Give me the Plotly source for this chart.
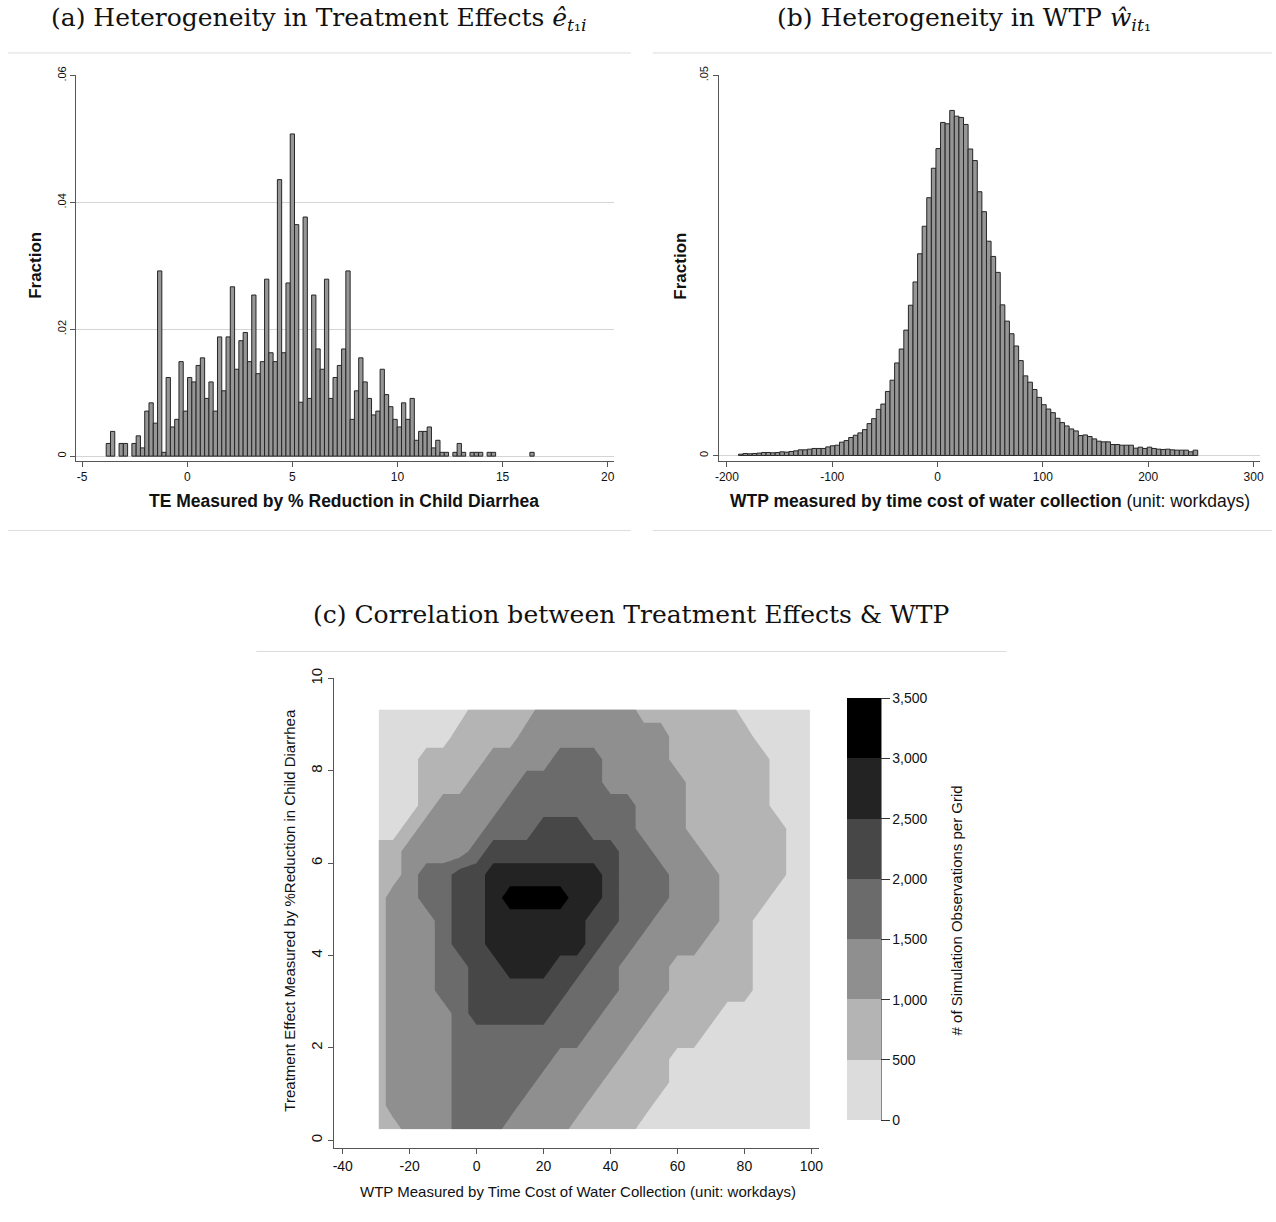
import plotly.graph_objects as go

W, H = 1276, 1222

# ---------------- data: panel (a) ----------------
te_bin_start = -3.857
te_bin_width = 0.2036
te_fraction = [
    0.0020, 0.0039, 0, 0.0020, 0.0020, 0, 0.0020, 0.0032, 0.0013, 0.0071,
    0.0084, 0.0052, 0.0292, 0.0006, 0.0124, 0.0046, 0.0058, 0.0149, 0.0071, 0.0124,
    0.0117, 0.0143, 0.0155, 0.0091, 0.0117, 0.0071, 0.0188, 0.0103, 0.0188, 0.0267,
    0.0137, 0.0182, 0.0195, 0.0149, 0.0254, 0.0130, 0.0149, 0.0279, 0.0163, 0.0149,
    0.0436, 0.0163, 0.0273, 0.0508, 0.0365, 0.0085, 0.0377, 0.0091, 0.0254, 0.0169,
    0.0137, 0.0279, 0.0091, 0.0124, 0.0143, 0.0169, 0.0292, 0.0058, 0.0103, 0.0155,
    0.0117, 0.0091, 0.0065, 0.0071, 0.0137, 0.0097, 0.0078, 0.0058, 0.0046, 0.0084,
    0.0058, 0.0091, 0.0025, 0.0039, 0.0039, 0.0046, 0.0013, 0.0025, 0.0006, 0.0006,
    0, 0.0006, 0.0020, 0.0006, 0, 0.0006, 0.0006, 0.0006, 0, 0.0006,
    0.0006, 0, 0, 0, 0, 0, 0, 0, 0, 0.0006,
]
te_xticks = [-5, 0, 5, 10, 15, 20]
te_xticklabels = ["-5", "0", "5", "10", "15", "20"]
te_yticks = [0, 0.02, 0.04, 0.06]
te_yticklabels = ["0", ".02", ".04", ".06"]

# ---------------- data: panel (b) ----------------
wtp_bin_start = -189.0
wtp_bin_width = 4.36
wtp_fraction = [
    0.00017, 0.00026, 0.00022, 0.00026, 0.00031, 0.00039, 0.00039, 0.00035, 0.00039, 0.00048,
    0.00044, 0.00052, 0.00061, 0.00074, 0.00074, 0.00083, 0.00092, 0.00092, 0.00092, 0.00113,
    0.00127, 0.00135, 0.00175, 0.00196, 0.00236, 0.00266, 0.00297, 0.00340, 0.00419, 0.00484,
    0.00606, 0.00676, 0.00842, 0.00990, 0.01217, 0.01400, 0.01649, 0.01976, 0.02282, 0.02653,
    0.03015, 0.03390, 0.03778, 0.04036, 0.04380, 0.04363, 0.04538, 0.04463, 0.04446, 0.04354,
    0.04031, 0.03879, 0.03469, 0.03207, 0.02818, 0.02618, 0.02408, 0.01981, 0.01767, 0.01601,
    0.01440, 0.01248, 0.01047, 0.00964, 0.00868, 0.00764, 0.00668, 0.00611, 0.00563, 0.00489,
    0.00432, 0.00388, 0.00349, 0.00323, 0.00262, 0.00270, 0.00249, 0.00218, 0.00188, 0.00179,
    0.00179, 0.00144, 0.00144, 0.00135, 0.00135, 0.00135, 0.00096, 0.00109, 0.00092, 0.00109,
    0.00092, 0.00083, 0.00079, 0.00083, 0.00074, 0.00070, 0.00070, 0.00070, 0.00048, 0.00070,
]
wtp_xticks = [-200, -100, 0, 100, 200, 300]
wtp_xticklabels = ["-200", "-100", "0", "100", "200", "300"]
wtp_yticks = [0, 0.05]
wtp_yticklabels = ["0", ".05"]

# ---------------- data: panel (c) ----------------
grid_wtp = [-29.3, -25, -20, -15, -10, -5, 0, 5, 10, 15, 20, 25, 30, 35, 40,
            45, 50, 55, 60, 65, 70, 75, 80, 85, 90, 95, 99.6]
grid_te = [0.24, 0.75, 1.25, 1.75, 2.25, 2.75, 3.25, 3.75, 4.25, 4.75,
           5.25, 5.75, 6.25, 6.75, 7.25, 7.75, 8.25, 8.75, 9.33]
obs_per_grid = [
    [750, 750, 1250, 1250, 1250, 1750, 1750, 1750, 1250, 1250, 1250, 1250, 750, 750, 750, 750, 250, 250, 250, 250, 250, 250, 250, 250, 250, 250, 250],
    [750, 1250, 1250, 1250, 1250, 1750, 1750, 1750, 1750, 1250, 1250, 1250, 1250, 750, 750, 750, 750, 250, 250, 250, 250, 250, 250, 250, 250, 250, 250],
    [750, 1250, 1250, 1250, 1250, 1750, 1750, 1750, 1750, 1750, 1250, 1250, 1250, 1250, 750, 750, 750, 750, 250, 250, 250, 250, 250, 250, 250, 250, 250],
    [750, 1250, 1250, 1250, 1250, 1750, 1750, 1750, 1750, 1750, 1750, 1250, 1250, 1250, 1250, 750, 750, 750, 250, 250, 250, 250, 250, 250, 250, 250, 250],
    [750, 1250, 1250, 1250, 1250, 1750, 1750, 1750, 1750, 1750, 1750, 1750, 1750, 1250, 1250, 1250, 750, 750, 750, 750, 250, 250, 250, 250, 250, 250, 250],
    [750, 1250, 1250, 1250, 1250, 1750, 2250, 2250, 2250, 2250, 2250, 1750, 1750, 1750, 1250, 1250, 1250, 750, 750, 750, 750, 250, 250, 250, 250, 250, 250],
    [750, 1250, 1250, 1250, 1750, 1750, 2250, 2250, 2250, 2250, 2250, 2250, 1750, 1750, 1750, 1250, 1250, 1250, 750, 750, 750, 750, 750, 250, 250, 250, 250],
    [750, 1250, 1250, 1250, 1750, 1750, 2250, 2250, 2750, 2750, 2750, 2250, 2250, 1750, 1750, 1250, 1250, 1250, 750, 750, 750, 750, 750, 250, 250, 250, 250],
    [750, 1250, 1250, 1250, 1750, 2250, 2250, 2750, 2750, 2750, 2750, 2750, 2750, 2250, 1750, 1750, 1250, 1250, 1250, 1250, 750, 750, 750, 250, 250, 250, 250],
    [750, 1250, 1250, 1250, 1750, 2250, 2250, 2750, 2750, 2750, 2750, 2750, 2750, 2250, 2250, 1750, 1750, 1250, 1250, 1250, 1250, 750, 750, 250, 250, 250, 250],
    [750, 1250, 1250, 1750, 1750, 2250, 2250, 2750, 3250, 3250, 3250, 3250, 2750, 2750, 2250, 1750, 1750, 1750, 1250, 1250, 1250, 750, 750, 750, 250, 250, 250],
    [750, 750, 1250, 1750, 1750, 2250, 2250, 2750, 2750, 2750, 2750, 2750, 2750, 2750, 2250, 1750, 1750, 1750, 1250, 1250, 1250, 750, 750, 750, 750, 250, 250],
    [750, 750, 1250, 1250, 1250, 1250, 1750, 2250, 2250, 2250, 2250, 2250, 2250, 2250, 2250, 1750, 1750, 1250, 1250, 1250, 750, 750, 750, 750, 750, 250, 250],
    [250, 250, 750, 1250, 1250, 1250, 1250, 1750, 1750, 1750, 2250, 2250, 2250, 1750, 1750, 1750, 1250, 1250, 1250, 750, 750, 750, 750, 750, 750, 250, 250],
    [250, 250, 250, 750, 1250, 1250, 1250, 1250, 1750, 1750, 1750, 1750, 1750, 1750, 1750, 1750, 1250, 1250, 1250, 750, 750, 750, 750, 750, 250, 250, 250],
    [250, 250, 250, 750, 750, 750, 1250, 1250, 1250, 1750, 1750, 1750, 1750, 1750, 1250, 1250, 1250, 1250, 1250, 750, 750, 750, 750, 750, 250, 250, 250],
    [250, 250, 250, 750, 750, 750, 750, 1250, 1250, 1250, 1250, 1750, 1750, 1750, 1250, 1250, 1250, 1250, 750, 750, 750, 750, 750, 750, 250, 250, 250],
    [250, 250, 250, 250, 250, 750, 750, 750, 750, 1250, 1250, 1250, 1250, 1250, 1250, 1250, 1250, 1250, 750, 750, 750, 750, 750, 250, 250, 250, 250],
    [250, 250, 250, 250, 250, 250, 750, 750, 750, 750, 1250, 1250, 1250, 1250, 1250, 1250, 750, 750, 750, 750, 750, 750, 250, 250, 250, 250, 250],
]
level_values = [0, 500, 1000, 1500, 2000, 2500, 3000, 3500]
level_labels = ["0", "500", "1,000", "1,500", "2,000", "2,500", "3,000", "3,500"]
band_colors = ["#dcdcdc", "#b4b4b4", "#8f8f8f", "#6b6b6b", "#474747", "#232323", "#000000"]
c_xticks = [-40, -20, 0, 20, 40, 60, 80, 100]
c_xticklabels = ["-40", "-20", "0", "20", "40", "60", "80", "100"]
c_yticks = [0, 2, 4, 6, 8, 10]

# page placement (target pixel positions, corrected for the capture offset/scale)
OX, OY, SX, SY = 4.0, 10.0, 0.9925, 0.9918


def PX(x):
    return (x - OX) / SX / W


def PY(y):
    return 1 - (y - OY) / SY / H


SANS = "Liberation Sans, Arial, sans-serif"
SERIF = "DejaVu Serif, serif"
AXCOL = "#555555"

fig = go.Figure()

# panel (a) bars
te_x = [te_bin_start + te_bin_width * (i + 0.5) for i in range(len(te_fraction))]
te_y = [v if v > 0 else None for v in te_fraction]
fig.add_trace(go.Bar(
    x=te_x, y=te_y, width=te_bin_width, xaxis="x", yaxis="y",
    marker=dict(color="#969696", line=dict(color="#262626", width=1)),
    hoverinfo="skip", showlegend=False,
))

# panel (b) bars
wtp_x = [wtp_bin_start + wtp_bin_width * (i + 0.5) for i in range(len(wtp_fraction))]
fig.add_trace(go.Bar(
    x=wtp_x, y=wtp_fraction, width=wtp_bin_width, xaxis="x2", yaxis="y2",
    marker=dict(color="#969696", line=dict(color="#262626", width=1)),
    hoverinfo="skip", showlegend=False,
))

# panel (c) contour
n_b = len(band_colors)
cscale = [[i / (n_b - 1), c] for i, c in enumerate(band_colors)]
fig.add_trace(go.Contour(
    x=grid_wtp, y=grid_te, z=obs_per_grid, xaxis="x3", yaxis="y3",
    contours=dict(start=500, end=3000, size=500, coloring="fill", showlines=False),
    line=dict(width=0, smoothing=0),
    colorscale=cscale, showscale=False,
    hoverinfo="skip", showlegend=False,
))

# stepped colour key (0 .. 3,500 in steps of 500)
step_scale = []
for i, c in enumerate(band_colors):
    step_scale.append([i / n_b, c])
    step_scale.append([(i + 1) / n_b, c])
fig.add_trace(go.Scatter(
    x=[None], y=[None], xaxis="x3", yaxis="y3", mode="markers",
    marker=dict(
        color=[0], cmin=level_values[0], cmax=level_values[-1], colorscale=step_scale,
        showscale=True,
        colorbar=dict(
            x=PX(846), xanchor="left", y=PY(909), yanchor="middle",
            len=(1120 - 698) / SY / H, lenmode="fraction",
            thickness=34, thicknessmode="pixels", xpad=0, ypad=0,
            outlinewidth=0, ticks="outside", ticklen=9, tickcolor="#333",
            tickvals=level_values, ticktext=level_labels,
            tickfont=dict(family=SANS, size=14, color="#111"),
        ),
    ),
    hoverinfo="skip", showlegend=False,
))

common_ax = dict(showline=True, linecolor=AXCOL, linewidth=1, ticks="outside",
                 ticklen=5, tickcolor=AXCOL, zeroline=False, showgrid=False,
                 tickfont=dict(family=SANS, size=12, color="#111"))

fig.update_layout(
    width=W, height=H, margin=dict(l=0, r=0, t=0, b=0),
    paper_bgcolor="white", plot_bgcolor="white", showlegend=False,
    barmode="overlay",
    xaxis=dict(domain=[PX(76), PX(613)], range=[-5.29, 20.29], anchor="y",
               tickvals=te_xticks, ticktext=te_xticklabels, **common_ax),
    yaxis=dict(domain=[PY(460), PY(74)], range=[-0.00071, 0.0601], anchor="x",
               tickvals=te_yticks, ticktext=te_yticklabels, tickangle=-90,
               **{**common_ax, "showgrid": True, "gridcolor": "#d4d4d4",
                  "tickfont": dict(family=SANS, size=11, color="#111")}),
    xaxis2=dict(domain=[PX(718), PX(1258)], range=[-207.6, 305.7], anchor="y2",
                tickvals=wtp_xticks, ticktext=wtp_xticklabels, **common_ax),
    yaxis2=dict(domain=[PY(460), PY(74)], range=[-0.00068, 0.05005], anchor="x2",
                tickvals=wtp_yticks, ticktext=wtp_yticklabels, tickangle=-90,
                **{**common_ax, "showgrid": True, "gridcolor": "#d4d4d4",
                   "tickfont": dict(family=SANS, size=11, color="#111")}),
    xaxis3=dict(domain=[PX(334), PX(818)], range=[-42.5, 102.3], anchor="y3",
                tickvals=c_xticks, ticktext=c_xticklabels,
                **{**common_ax, "tickfont": dict(family=SANS, size=14, color="#111")}),
    yaxis3=dict(domain=[PY(1148), PY(678)], range=[-0.17, 10.0], anchor="x3",
                tickvals=c_yticks, tickangle=-90,
                **{**common_ax, "tickfont": dict(family=SANS, size=15, color="#111")}),
)

shapes = []
for (x0, x1, y) in [(8, 630, 52), (652, 1275, 52), (8, 630, 530), (652, 1275, 530), (256, 1005, 651)]:
    shapes.append(dict(type="line", xref="paper", yref="paper", x0=PX(x0), x1=min(PX(x1), 1.0),
                       y0=PY(y), y1=PY(y), line=dict(color="#dcdcdc", width=1)))
shapes.append(dict(type="line", xref="paper", yref="paper", x0=PX(880), x1=PX(880),
                   y0=PY(698), y1=PY(1120), line=dict(color="#333", width=1)))
fig.update_layout(shapes=shapes)

ann = []


def add_text(text, x, y, size, family=SANS, angle=0, color="#111"):
    ann.append(dict(text=text, x=PX(x), y=PY(y), xref="paper", yref="paper",
                    showarrow=False, xanchor="center", yanchor="middle",
                    textangle=angle, font=dict(family=family, size=size, color=color)))


add_text("(a) Heterogeneity in Treatment Effects <i>ê</i><sub><i>t</i>₁<i>i</i></sub>", 319, 18, 25, SERIF)
add_text("(b) Heterogeneity in WTP <i>ŵ</i><sub><i>it</i>₁</sub>", 963, 18, 25, SERIF)
add_text("(c) Correlation between Treatment Effects &amp; WTP", 630, 614, 25, SERIF)
add_text("<b>Fraction</b>", 36, 265, 17, angle=-90)
add_text("<b>Fraction</b>", 680, 265, 17, angle=-90)
add_text("<b>TE Measured by % Reduction in Child Diarrhea</b>", 344, 500, 17.5)
add_text("<b>WTP measured by time cost of water collection</b> (unit: workdays)", 989, 500, 17.5)
add_text("Treatment Effect Measured by %Reduction in Child Diarrhea", 289, 910, 15, angle=-90)
add_text("WTP Measured by Time Cost of Water Collection (unit: workdays)", 577, 1191, 15)
add_text("# of Simulation Observations per Grid", 955, 910, 15, angle=-90)
fig.update_layout(annotations=ann)

fig.write_html(
    "out.html",
    config={"displayModeBar": False},
    post_script=(
        "var gd=document.getElementById('{plot_id}');"
        "gd.style.position='absolute';gd.style.left='0px';gd.style.top='0px';"
        "document.body.style.margin='0';"
        "document.documentElement.style.overflow='hidden';"
        "document.body.style.overflow='hidden';"
    ),
)
